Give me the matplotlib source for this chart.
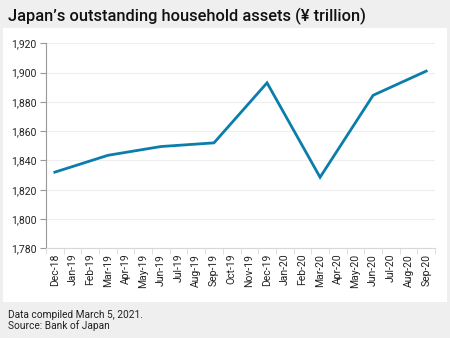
import matplotlib
matplotlib.use("Agg")
import matplotlib.pyplot as plt
from matplotlib.patches import Rectangle
import numpy as np

months = ["Dec-18", "Jan-19", "Feb-19", "Mar-19", "Apr-19", "May-19", "Jun-19",
          "Jul-19", "Aug-19", "Sep-19", "Oct-19", "Nov-19", "Dec-19", "Jan-20",
          "Feb-20", "Mar-20", "Apr-20", "May-20", "Jun-20", "Jul-20", "Aug-20",
          "Sep-20"]
# quarterly observations (month index into `months`)
obs_months = ["Dec-18", "Mar-19", "Jun-19", "Sep-19", "Dec-19", "Mar-20", "Jun-20", "Sep-20"]
assets = [1832, 1843.5, 1849.5, 1852, 1893, 1828.5, 1884.5, 1901]
y_ticks = [1780, 1800, 1820, 1840, 1860, 1880, 1900, 1920]

plt.rcParams["font.family"] = ["Roboto", "DejaVu Sans"]

fig = plt.figure(figsize=(4.5, 3.38), dpi=100)
fig.patch.set_facecolor("#efefef")
# white panel behind the chart
fig.patches.append(Rectangle((3 / 450, 36 / 338), 444 / 450, 274 / 338,
                             transform=fig.transFigure, facecolor="white",
                             edgecolor="none", zorder=-10))

ax = fig.add_axes([0.1022, 0.2654, 0.8645, 0.6065])
ax.set_facecolor("white")
ax.set_zorder(1)

x = [months.index(m) for m in obs_months]
ax.plot(x, assets, color="#0b7dab", linewidth=2.0, solid_joinstyle="miter", zorder=3)

ax.set_xlim(-0.5, len(months) - 0.5)
ax.set_ylim(1780, 1920)
ax.set_yticks(y_ticks)
ax.set_yticklabels([f"{v:,}" for v in y_ticks], fontsize=7.5, color="#222222")
ax.set_xticks(np.arange(len(months)))
ax.set_xticklabels(months, rotation=90, fontsize=7.5, color="#222222")
ax.set_xticks(np.arange(len(months) + 1) - 0.5, minor=True)
ax.tick_params(axis="x", which="major", length=0, pad=4)
ax.tick_params(axis="x", which="minor", length=4, color="#d8d8d8")
ax.tick_params(axis="y", length=4, color="#999999", pad=3)

ax.grid(axis="y", color="#eeeeee", linewidth=0.8)
ax.set_axisbelow(True)
for s in ["top", "right"]:
    ax.spines[s].set_visible(False)
ax.spines["left"].set_color("#999999")
ax.spines["bottom"].set_color("#d8d8d8")

fig.text(8 / 450, 1 - 16 / 338, "Japan\u2019s outstanding household assets (\u00a5 trillion)",
         fontsize=11.8, fontweight="medium", color="#111111", va="center", ha="left")
fig.text(8 / 450, 1 - 315 / 338, "Data compiled March 5, 2021.", fontsize=7.3,
         color="#222222", va="center", ha="left")
fig.text(8 / 450, 1 - 326 / 338, "Source: Bank of Japan", fontsize=7.3,
         color="#222222", va="center", ha="left")

fig.savefig("out.png", dpi=100, facecolor=fig.get_facecolor())
